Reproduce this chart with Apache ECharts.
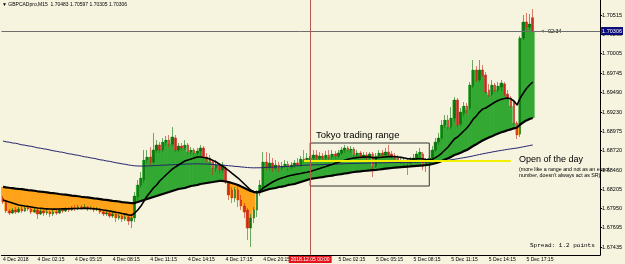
<!DOCTYPE html>
<html><head><meta charset="utf-8">
<script src="https://cdn.jsdelivr.net/npm/echarts@6/dist/echarts.min.js"></script>
<style>html,body{margin:0;padding:0;background:#f6f4df}#c{width:625px;height:264px}</style>
</head><body><div id="c"></div>
<script>
// ---- data (GBPCADpro, M15) ----
const barOpen=[1.68089,1.68035,1.67916,1.67889,1.67929,1.67902,1.67942,1.67916,1.67956,1.67942,1.67902,1.67929,1.67876,1.67916,1.67889,1.67902,1.67876,1.67902,1.67889,1.67929,1.67916,1.67942,1.67929,1.67956,1.67942,1.67969,1.67956,1.67969,1.67942,1.67956,1.67929,1.67942,1.67902,1.67876,1.67889,1.67849,1.67876,1.67823,1.67849,1.67809,1.67836,1.67783,1.67823,1.68102,1.68262,1.68328,1.68593,1.68633,1.68567,1.68726,1.68793,1.68726,1.68832,1.68859,1.68806,1.68885,1.68726,1.68779,1.68753,1.68793,1.68699,1.68726,1.68686,1.68713,1.68753,1.68633,1.68620,1.68567,1.68487,1.68527,1.68460,1.68487,1.68288,1.68195,1.68089,1.68195,1.68062,1.67982,1.67929,1.67690,1.67823,1.67929,1.68155,1.68248,1.68567,1.68500,1.68553,1.68487,1.68527,1.68487,1.68513,1.68540,1.68500,1.68527,1.68553,1.68527,1.68606,1.68593,1.68584,1.68620,1.68660,1.68620,1.68646,1.68620,1.68660,1.68633,1.68673,1.68646,1.68686,1.68726,1.68753,1.68726,1.68739,1.68660,1.68686,1.68646,1.68660,1.68633,1.68673,1.68513,1.68646,1.68686,1.68660,1.68699,1.68673,1.68646,1.68620,1.68580,1.68593,1.68567,1.68553,1.68593,1.68620,1.68673,1.68673,1.68513,1.68553,1.68620,1.68726,1.68832,1.68885,1.69058,1.69124,1.69031,1.69151,1.69390,1.69071,1.69217,1.69310,1.69284,1.69576,1.69788,1.69656,1.69788,1.69722,1.69523,1.69469,1.69589,1.69523,1.69563,1.69602,1.69469,1.69416,1.69363,1.69084,1.68938,1.70213,1.70426,1.70359,1.70483];
const barClose=[1.68035,1.67916,1.67889,1.67929,1.67902,1.67942,1.67916,1.67956,1.67942,1.67902,1.67929,1.67876,1.67916,1.67889,1.67902,1.67876,1.67902,1.67889,1.67929,1.67916,1.67942,1.67929,1.67956,1.67942,1.67969,1.67956,1.67969,1.67942,1.67956,1.67929,1.67942,1.67902,1.67876,1.67889,1.67849,1.67876,1.67823,1.67849,1.67809,1.67836,1.67783,1.67823,1.68115,1.68262,1.68354,1.68593,1.68633,1.68567,1.68726,1.68793,1.68726,1.68832,1.68859,1.68806,1.68899,1.68726,1.68779,1.68753,1.68793,1.68699,1.68726,1.68686,1.68713,1.68753,1.68633,1.68620,1.68567,1.68487,1.68527,1.68460,1.68527,1.68301,1.68129,1.68089,1.68195,1.68062,1.67982,1.67902,1.67690,1.67823,1.67929,1.68155,1.68262,1.68567,1.68500,1.68553,1.68487,1.68527,1.68487,1.68513,1.68540,1.68500,1.68527,1.68553,1.68527,1.68606,1.68593,1.68620,1.68620,1.68660,1.68620,1.68646,1.68620,1.68660,1.68633,1.68673,1.68646,1.68686,1.68726,1.68753,1.68726,1.68739,1.68660,1.68686,1.68646,1.68660,1.68633,1.68673,1.68513,1.68646,1.68686,1.68660,1.68699,1.68673,1.68646,1.68620,1.68580,1.68593,1.68567,1.68553,1.68593,1.68620,1.68673,1.68699,1.68513,1.68567,1.68620,1.68726,1.68832,1.68885,1.69058,1.69124,1.69031,1.69151,1.69390,1.69058,1.69230,1.69310,1.69257,1.69589,1.69788,1.69656,1.69788,1.69722,1.69496,1.69456,1.69589,1.69523,1.69576,1.69616,1.69469,1.69416,1.69310,1.69084,1.68925,1.70213,1.70426,1.70359,1.70399,1.70306];
const barHigh=[1.68115,1.68049,1.67942,1.67956,1.67969,1.67969,1.67982,1.67982,1.67996,1.67969,1.67956,1.67942,1.67942,1.67929,1.67942,1.67916,1.67929,1.67929,1.67956,1.67956,1.67969,1.67969,1.67982,1.67996,1.67996,1.67996,1.68009,1.67982,1.67982,1.67969,1.67969,1.67956,1.67929,1.67916,1.67902,1.67902,1.67889,1.67876,1.67863,1.67876,1.67849,1.67863,1.68168,1.68328,1.68434,1.68726,1.68726,1.68766,1.68952,1.68859,1.68832,1.68885,1.68912,1.68925,1.69031,1.68925,1.68819,1.68819,1.68859,1.68819,1.68766,1.68753,1.68753,1.68793,1.68779,1.68686,1.68660,1.68593,1.68593,1.68553,1.68567,1.68513,1.68301,1.68235,1.68235,1.68248,1.68129,1.68022,1.67956,1.67876,1.67969,1.68195,1.68328,1.68699,1.68699,1.68686,1.68620,1.68593,1.68567,1.68567,1.68593,1.68580,1.68567,1.68593,1.68620,1.68646,1.68726,1.68686,1.68646,1.68726,1.68726,1.68699,1.68686,1.68713,1.68726,1.68726,1.68713,1.68726,1.68766,1.68793,1.68779,1.68779,1.68766,1.68726,1.68713,1.68699,1.68699,1.68699,1.68699,1.68686,1.68726,1.68726,1.68753,1.68793,1.68713,1.68686,1.68660,1.68633,1.68620,1.68606,1.68633,1.68673,1.68713,1.68753,1.68699,1.68620,1.68660,1.68779,1.68885,1.68952,1.69124,1.69191,1.69191,1.69297,1.69430,1.69416,1.69284,1.69363,1.69350,1.69629,1.69921,1.69841,1.69921,1.69855,1.69762,1.69602,1.69656,1.69616,1.69629,1.69656,1.69629,1.69523,1.69443,1.69390,1.69111,1.70240,1.70519,1.70545,1.70532,1.70597];
const barLow=[1.68009,1.67889,1.67863,1.67876,1.67876,1.67889,1.67889,1.67902,1.67916,1.67876,1.67889,1.67809,1.67863,1.67849,1.67863,1.67836,1.67849,1.67863,1.67876,1.67889,1.67902,1.67902,1.67916,1.67916,1.67929,1.67929,1.67942,1.67916,1.67929,1.67902,1.67916,1.67876,1.67849,1.67849,1.67823,1.67823,1.67769,1.67796,1.67769,1.67783,1.67730,1.67690,1.67769,1.68062,1.68222,1.68288,1.68553,1.68527,1.68540,1.68686,1.68686,1.68699,1.68779,1.68766,1.68779,1.68699,1.68699,1.68713,1.68726,1.68660,1.68660,1.68646,1.68660,1.68646,1.68620,1.68567,1.68527,1.68394,1.68434,1.68407,1.68420,1.68275,1.68062,1.68022,1.68035,1.67969,1.67929,1.67823,1.67531,1.67438,1.67756,1.67836,1.68115,1.68195,1.68460,1.68460,1.68434,1.68460,1.68434,1.68460,1.68487,1.68447,1.68473,1.68487,1.68500,1.68500,1.68553,1.68567,1.68553,1.68593,1.68593,1.68580,1.68567,1.68593,1.68593,1.68606,1.68606,1.68620,1.68660,1.68686,1.68699,1.68686,1.68633,1.68633,1.68606,1.68620,1.68593,1.68606,1.68367,1.68487,1.68620,1.68633,1.68633,1.68646,1.68620,1.68593,1.68553,1.68540,1.68513,1.68394,1.68513,1.68567,1.68593,1.68633,1.68460,1.68434,1.68487,1.68593,1.68699,1.68793,1.68859,1.69018,1.68992,1.69004,1.69098,1.69031,1.69044,1.69177,1.69204,1.69257,1.69549,1.69629,1.69629,1.69695,1.69469,1.69430,1.69443,1.69496,1.69496,1.69509,1.69443,1.69377,1.69284,1.69058,1.68872,1.68899,1.70187,1.70320,1.70320,1.70305];
const slowMA=[1.68236,1.68230,1.68225,1.68221,1.68214,1.68209,1.68206,1.68199,1.68193,1.68189,1.68185,1.68178,1.68173,1.68169,1.68163,1.68157,1.68153,1.68149,1.68142,1.68136,1.68133,1.68127,1.68120,1.68116,1.68112,1.68105,1.68100,1.68096,1.68090,1.68083,1.68080,1.68074,1.68067,1.68064,1.68058,1.68051,1.68047,1.68042,1.68035,1.68030,1.68026,1.68022,1.68022,1.68035,1.68049,1.68062,1.68075,1.68089,1.68102,1.68115,1.68129,1.68142,1.68155,1.68168,1.68182,1.68195,1.68208,1.68215,1.68222,1.68235,1.68248,1.68255,1.68262,1.68275,1.68281,1.68288,1.68295,1.68301,1.68308,1.68315,1.68315,1.68308,1.68301,1.68288,1.68275,1.68262,1.68241,1.68222,1.68202,1.68182,1.68168,1.68162,1.68168,1.68182,1.68195,1.68208,1.68215,1.68222,1.68235,1.68241,1.68248,1.68262,1.68268,1.68275,1.68288,1.68301,1.68315,1.68328,1.68341,1.68348,1.68354,1.68361,1.68367,1.68374,1.68381,1.68387,1.68394,1.68401,1.68407,1.68414,1.68420,1.68427,1.68434,1.68438,1.68442,1.68447,1.68451,1.68455,1.68460,1.68463,1.68467,1.68472,1.68478,1.68483,1.68487,1.68491,1.68495,1.68499,1.68502,1.68505,1.68508,1.68512,1.68516,1.68520,1.68523,1.68527,1.68532,1.68540,1.68551,1.68563,1.68580,1.68600,1.68617,1.68635,1.68660,1.68673,1.68691,1.68711,1.68726,1.68753,1.68779,1.68803,1.68828,1.68852,1.68872,1.68891,1.68909,1.68928,1.68945,1.68961,1.68974,1.68988,1.69000,1.69014,1.69025,1.69065,1.69094,1.69119,1.69138,1.69151];
const fastMA=[1.68062,1.68049,1.68035,1.68022,1.68009,1.67996,1.67989,1.67982,1.67976,1.67969,1.67962,1.67956,1.67952,1.67948,1.67945,1.67942,1.67941,1.67941,1.67942,1.67944,1.67945,1.67946,1.67948,1.67949,1.67950,1.67950,1.67952,1.67950,1.67949,1.67946,1.67942,1.67937,1.67930,1.67924,1.67916,1.67908,1.67900,1.67892,1.67883,1.67875,1.67865,1.67860,1.67889,1.67929,1.67982,1.68049,1.68115,1.68168,1.68222,1.68262,1.68315,1.68354,1.68394,1.68434,1.68473,1.68500,1.68527,1.68553,1.68580,1.68593,1.68606,1.68620,1.68633,1.68633,1.68626,1.68620,1.68606,1.68587,1.68567,1.68540,1.68513,1.68487,1.68454,1.68420,1.68387,1.68354,1.68315,1.68275,1.68235,1.68195,1.68175,1.68168,1.68182,1.68222,1.68248,1.68275,1.68301,1.68321,1.68341,1.68354,1.68367,1.68381,1.68390,1.68399,1.68407,1.68415,1.68423,1.68431,1.68441,1.68454,1.68467,1.68480,1.68495,1.68508,1.68522,1.68535,1.68549,1.68563,1.68577,1.68591,1.68603,1.68613,1.68620,1.68625,1.68629,1.68632,1.68633,1.68633,1.68625,1.68622,1.68626,1.68630,1.68634,1.68638,1.68640,1.68638,1.68633,1.68628,1.68620,1.68612,1.68608,1.68606,1.68609,1.68614,1.68606,1.68598,1.68596,1.68603,1.68625,1.68652,1.68686,1.68726,1.68766,1.68819,1.68872,1.68899,1.68938,1.68978,1.69018,1.69071,1.69137,1.69177,1.69230,1.69270,1.69284,1.69310,1.69337,1.69363,1.69383,1.69399,1.69411,1.69416,1.69406,1.69377,1.69323,1.69416,1.69483,1.69543,1.69589,1.69629];
const longMA=[1.68846,1.68834,1.68830,1.68819,1.68816,1.68806,1.68795,1.68790,1.68781,1.68776,1.68766,1.68755,1.68750,1.68741,1.68736,1.68726,1.68716,1.68710,1.68701,1.68696,1.68686,1.68676,1.68671,1.68661,1.68656,1.68646,1.68636,1.68631,1.68621,1.68616,1.68606,1.68596,1.68591,1.68581,1.68576,1.68567,1.68557,1.68551,1.68542,1.68537,1.68528,1.68522,1.68516,1.68514,1.68513,1.68513,1.68514,1.68516,1.68518,1.68521,1.68522,1.68525,1.68526,1.68529,1.68530,1.68533,1.68534,1.68537,1.68538,1.68540,1.68541,1.68542,1.68543,1.68542,1.68541,1.68540,1.68537,1.68535,1.68531,1.68529,1.68525,1.68522,1.68517,1.68514,1.68509,1.68506,1.68501,1.68498,1.68493,1.68491,1.68489,1.68490,1.68490,1.68492,1.68495,1.68496,1.68499,1.68500,1.68503,1.68504,1.68507,1.68508,1.68512,1.68514,1.68518,1.68520,1.68524,1.68526,1.68527,1.68528,1.68530,1.68531,1.68533,1.68534,1.68536,1.68537,1.68539,1.68540,1.68542,1.68544,1.68545,1.68547,1.68548,1.68549,1.68550,1.68551,1.68552,1.68553,1.68553,1.68554,1.68555,1.68556,1.68557,1.68558,1.68559,1.68559,1.68560,1.68560,1.68561,1.68561,1.68562,1.68563,1.68564,1.68565,1.68565,1.68566,1.68568,1.68570,1.68573,1.68576,1.68580,1.68585,1.68590,1.68596,1.68603,1.68610,1.68617,1.68624,1.68631,1.68639,1.68648,1.68657,1.68666,1.68675,1.68683,1.68691,1.68699,1.68707,1.68714,1.68721,1.68728,1.68735,1.68741,1.68747,1.68752,1.68760,1.68769,1.68777,1.68785,1.68793];
const firstBarUTC=[2018,11,3,23,30]; const barMinutes=15; const emptyBars=21;
const xTickIdx=[0,11,23,35,47,59,71,83,107,119,131,143,155,167];
const xTickText=['4 Dec 2018','4 Dec 02:15','4 Dec 05:15','4 Dec 08:15','4 Dec 11:15','4 Dec 14:15','4 Dec 17:15','4 Dec 20:15','5 Dec 02:15','5 Dec 05:15','5 Dec 08:15','5 Dec 11:15','5 Dec 14:15','5 Dec 17:15'];
const yTickText=['1.70515','1.70260','1.70005','1.69745','1.69490','1.69230','1.68975','1.68720','1.68460','1.68205','1.67950','1.67695','1.67435'];
const bidPrice=1.70306, bidText='1.70306';
const separatorBar=98, separatorText='2018.12.05 00:00';
const dayOpenPrice=1.68584, dayOpenFrom=96, dayOpenTo=162;
const tokyoFrom=98, tokyoTo=136, tokyoHigh=1.68819, tokyoLow=1.68248;
const titleText='▼ GBPCADpro,M15  1.70483 1.70597 1.70305 1.70306';

// ---- build ----
const nBars=barOpen.length;
const cats=[];
const t0=Date.UTC(...firstBarUTC);
const pad=n=>String(n).padStart(2,'0');
for(let i=0;i<nBars+emptyBars;i++){const d=new Date(t0+i*barMinutes*60000);cats.push(d.getUTCFullYear()+'.'+pad(d.getUTCMonth()+1)+'.'+pad(d.getUTCDate())+' '+pad(d.getUTCHours())+':'+pad(d.getUTCMinutes()));}
const xLab={};xTickIdx.forEach((k,j)=>xLab[k]=xTickText[j]);
const yVals=yTickText.map(Number);
const candles=barOpen.map((o,i)=>[o,barClose[i],barLow[i],barHigh[i]]);
const fillData=barClose.map((c,i)=>[i,c,slowMA[i]]);
const BG='#f6f4df', FONT='Liberation Sans, Arial, sans-serif';
const chart=echarts.init(document.getElementById('c'),null,{renderer:'canvas'});
chart.setOption({
  backgroundColor:BG, animation:false,
  grid:{left:0,right:23,top:0,bottom:9},
  xAxis:{type:'category',data:cats,boundaryGap:true,
    axisLine:{lineStyle:{color:'#000',width:1}},
    axisTick:{alignWithLabel:true,interval:(i)=>i in xLab,length:3,lineStyle:{color:'#000'}},
    axisLabel:{interval:(i)=>i in xLab,formatter:(v,i)=>xLab[i]||'',align:'left',fontSize:5,margin:2,color:'#000',fontFamily:FONT},
    splitLine:{show:false}},
  yAxis:{type:'value',position:'right',min:1.67332,max:1.70718,
    axisLine:{show:true,lineStyle:{color:'#000',width:1}},
    axisTick:{show:true,customValues:yVals,length:2,lineStyle:{color:'#000'}},
    axisLabel:{customValues:yVals,formatter:v=>{const k=yVals.findIndex(q=>Math.abs(q-v)<1e-6);return k>=0?yTickText[k]:'';},fontSize:5.5,margin:2,color:'#000',fontFamily:FONT},
    splitLine:{show:false}},
  series:[
    {type:'custom',z:1,data:fillData,encode:{x:0,y:[1,2]},
     renderItem:(params,api)=>{const i=api.value(0),c=api.value(1),m=api.value(2);const p1=api.coord([i,c]),p2=api.coord([i,m]);const w=api.size([1,0])[0];
       return {type:'rect',shape:{x:p1[0]-w/2-0.3,y:Math.min(p1[1],p2[1]),width:w+0.6,height:Math.abs(p1[1]-p2[1])},style:{fill:c>=m?'#33a833':'#ffa41a'}};}},
    {type:'line',z:2,data:[],markLine:{silent:true,symbol:'none',precision:5,label:{show:false},lineStyle:{color:'#f0f000',width:2,type:'solid'},
      data:[[{coord:[dayOpenFrom,dayOpenPrice]},{coord:[dayOpenTo,dayOpenPrice]}]]},
     markArea:{silent:true,itemStyle:{color:'rgba(0,0,0,0)',borderColor:'#333',borderWidth:1},data:[[{coord:[tokyoFrom,tokyoHigh]},{coord:[tokyoTo,tokyoLow]}]]}},
    {type:'candlestick',z:3,data:candles,barWidth:2,
     itemStyle:{color:'#0b740b',color0:'#c82a1e',borderColor:'#0b740b',borderColor0:'#c82a1e',borderWidth:0.6}},
    {type:'line',z:4,data:longMA,showSymbol:false,lineStyle:{color:'#24246e',width:1}},
    {type:'line',z:4,data:slowMA,showSymbol:false,lineStyle:{color:'#000',width:2.2}},
    {type:'line',z:4,data:fastMA,showSymbol:false,lineStyle:{color:'#000',width:1.6}},
    {type:'line',z:5,data:[],markLine:{silent:true,symbol:'none',precision:5,animation:false,
       data:[
        {yAxis:bidPrice,lineStyle:{color:'#6e6e6e',width:1,type:'solid'},label:{show:true,position:'end',formatter:bidText,backgroundColor:'#0a0a7a',color:'#fff',fontSize:5.5,padding:[1,1,1,1],distance:1,fontFamily:FONT}},
        {xAxis:separatorBar,lineStyle:{color:'#b0584a',width:1,type:'solid'},label:{show:true,position:'start',formatter:separatorText,backgroundColor:'#e3141c',color:'#fff',fontSize:5,padding:[1,2,1,2],distance:1,fontFamily:FONT}}
       ]}}
  ],
  graphic:[
    {type:'text',left:2,top:2,style:{text:titleText,fill:'#000',font:'5px '+FONT}},
    {type:'text',left:316,top:130,style:{text:'Tokyo trading range',fill:'#000',font:'9.5px '+FONT}},
    {type:'text',left:519,top:155,style:{text:'Open of the day',fill:'#000',font:'9px '+FONT}},
    {type:'text',left:519,top:166,style:{text:'(more like a range and not as an exact\nnumber, doesn\'t always act as SR)',fill:'#000',font:'5.3px '+FONT,lineHeight:6.5}},
    {type:'text',left:541,top:28,style:{text:'<--02:34',fill:'#000',font:'5.5px '+FONT,backgroundColor:BG}},
    {type:'text',left:530,top:242,style:{text:'Spread: 1.2 points',fill:'#000',font:'6px Liberation Mono, monospace'}}
  ]
});
</script></body></html>
